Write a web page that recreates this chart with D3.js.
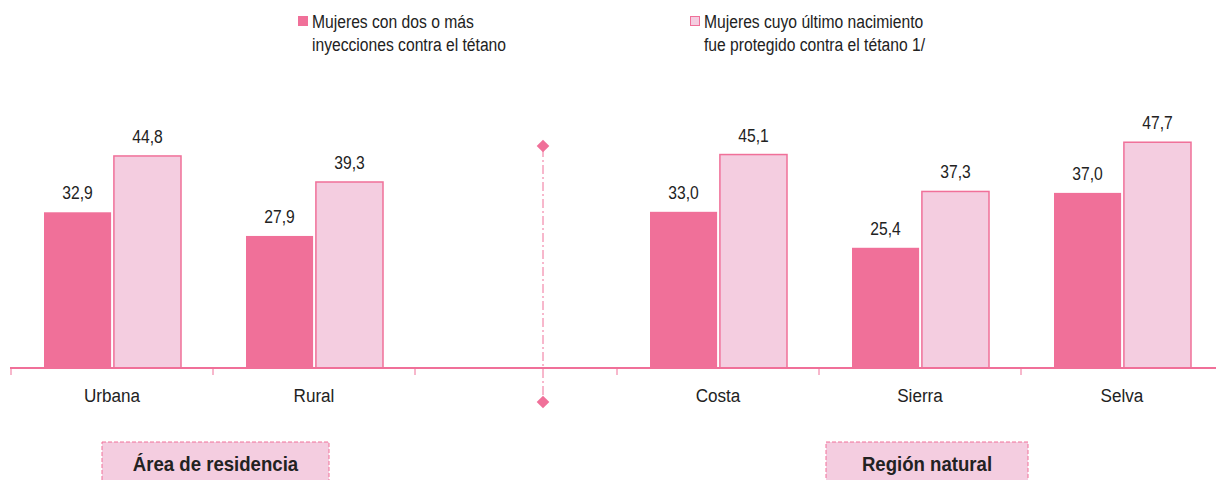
<!DOCTYPE html>
<html lang="es">
<head>
<meta charset="utf-8">
<script src="https://cdn.jsdelivr.net/npm/d3@7"></script>
<style>
    body { margin: 0; background: #fff; }
    svg { font-family: "Liberation Sans", Arial, sans-serif; }
</style>
</head>
<body>
<div id="chart"></div>
<script>

    // categorias (la tercera es el hueco entre los dos grupos)
    const categories = ["Urbana", "Rural", "", "Costa", "Sierra", "Selva"];
    const seriesNames = [
        ["Mujeres con dos o más", "inyecciones contra el tétano"],
        ["Mujeres cuyo último nacimiento", "fue protegido contra el tétano 1/"]
    ];
    const dosInyecciones = [32.9, 27.9, null, 33.0, 25.4, 37.0];
    const ultimoNacimiento = [44.8, 39.3, null, 45.1, 37.3, 47.7];
    const groupLabels = ["Área de residencia", "Región natural"];

    const width = 1216, height = 480;
    const dark = "#f07099", light = "#f4cde0", textColor = "#222";

    const svg = d3.select("#chart")
        .append("svg")
        .attr("width", width)
        .attr("height", height);

    // texto estrecho: escala horizontal alrededor del punto de anclaje
    function label(parent, x, y, t, anchor, size, bold, narrow) {
        return parent.append("text")
            .attr("transform", `translate(${x},${y}) scale(${narrow || 0.87},1)`)
            .attr("text-anchor", anchor)
            .style("font-size", size + "px")
            .style("font-weight", bold ? "bold" : "normal")
            .style("fill", textColor)
            .text(t);
    }

    // escalas
    const x = d3.scaleBand()
        .domain(categories.map((c, i) => i))
        .range([11, 1223]);

    const x1 = d3.scaleBand()
        .domain([0, 1])
        .range([33, 170])
        .paddingInner(0.04);

    const y = d3.scaleLinear()
        .domain([0, 50])
        .range([368, 368 - 50 * 4.733]);

    // datos por barra
    const bars = [];
    categories.forEach((c, i) => {
        if (dosInyecciones[i] != null) bars.push({ i: i, s: 0, v: dosInyecciones[i] });
        if (ultimoNacimiento[i] != null) bars.push({ i: i, s: 1, v: ultimoNacimiento[i] });
    });

    svg.selectAll("rect.bar")
        .data(bars)
        .enter()
        .append("rect")
        .attr("class", "bar")
        .attr("x", d => x(d.i) + x1(d.s))
        .attr("y", d => y(d.v))
        .attr("width", x1.bandwidth())
        .attr("height", d => y(0) - y(d.v))
        .attr("fill", d => d.s === 0 ? dark : light)
        .attr("stroke", d => d.s === 0 ? "none" : dark)
        .attr("stroke-width", 1.5);

    bars.forEach(d => {
        label(svg, x(d.i) + x1(d.s) + x1.bandwidth() / 2, y(d.v) - 13,
            d3.format(".1f")(d.v).replace(".", ","), "middle", 18, false);
    });

    // eje X
    const axis = svg.append("g")
        .attr("transform", `translate(0, ${y(0)})`)
        .call(d3.axisBottom(x).tickSize(0).tickFormat(i => categories[i]));
    axis.select(".domain").attr("stroke", dark).attr("stroke-width", 2).attr("d", "M10,0H1216");
    axis.selectAll("text").remove();
    categories.forEach((c, i) => {
        if (c) label(svg, x(i) + x.bandwidth() / 2, y(0) + 34, c, "middle", 19, false, 0.9);
    });

    // marcas entre categorias
    svg.selectAll("line.tick")
        .data(d3.range(categories.length + 1))
        .enter()
        .append("line")
        .attr("x1", i => 11 + i * x.step())
        .attr("x2", i => 11 + i * x.step())
        .attr("y1", y(0))
        .attr("y2", y(0) + 7)
        .attr("stroke", dark)
        .attr("stroke-width", 1);

    // divisor
    const divX = 543;
    svg.append("line")
        .attr("x1", divX).attr("x2", divX)
        .attr("y1", 148).attr("y2", 402)
        .attr("stroke", dark)
        .attr("stroke-width", 1)
        .attr("stroke-dasharray", "9,3,2,3");
    [146, 402].forEach(yy => {
        svg.append("path")
            .attr("d", d3.symbol().type(d3.symbolSquare).size(80)())
            .attr("transform", `translate(${divX},${yy}) rotate(45)`)
            .attr("fill", dark);
    });

    // leyenda
    const legendX = [298, 690];
    seriesNames.forEach((lines, s) => {
        const g = svg.append("g").attr("transform", `translate(${legendX[s]}, 0)`);
        g.append("rect")
            .attr("x", 0.5).attr("y", 16.5)
            .attr("width", 9).attr("height", 9)
            .attr("fill", s === 0 ? dark : light)
            .attr("stroke", dark)
            .attr("stroke-width", 1);
        lines.forEach((t, k) => {
            label(g, 14, 28 + k * 23, t, "start", 18, false);
        });
    });

    // etiquetas de grupo
    const groupBoxes = [[102, 329], [826, 1028]];
    groupLabels.forEach((t, k) => {
        const [a, b] = groupBoxes[k];
        svg.append("rect")
            .attr("x", a).attr("y", 442)
            .attr("width", b - a).attr("height", 50)
            .attr("fill", light)
            .attr("stroke", dark)
            .attr("stroke-width", 1)
            .attr("stroke-dasharray", "4,2");
        label(svg, (a + b) / 2, 471, t, "middle", 20, true, 0.93);
    });

</script>
</body>
</html>
